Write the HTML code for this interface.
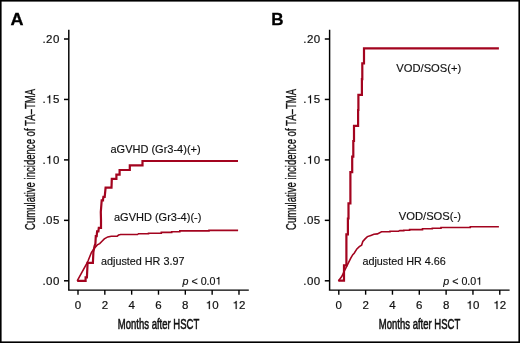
<!DOCTYPE html>
<html><head><meta charset="utf-8"><style>
html,body{margin:0;padding:0;background:#fff;width:520px;height:343px;overflow:hidden}
svg{display:block;will-change:transform}
.one{fill:none!important;stroke:none!important}
</style></head><body>
<svg width="520" height="343" viewBox="0 0 520 343">
<style>
.t{font-family:"Liberation Sans",sans-serif;font-size:11.5px;fill:#111;stroke:#111;stroke-width:0.2}
.ty{letter-spacing:0.5px}
.lab{font-family:"Liberation Sans",sans-serif;font-size:11px;fill:#111;stroke:#111;stroke-width:0.15}
.big{font-family:"Liberation Sans",sans-serif;font-size:17px;font-weight:bold;fill:#000;stroke:#000;stroke-width:0.3}
.ax{font-family:"Liberation Sans",sans-serif;font-size:13.8px;fill:#111;stroke:#111;stroke-width:0.55}
.one{fill:none!important;stroke:none!important}
</style>
<rect x="0" y="0" width="520" height="343" fill="#fff"/>
<rect x="0.8" y="0.8" width="518.4" height="341.4" fill="none" stroke="#000" stroke-width="1.6"/>
<text class="big" transform="translate(10.6 24.8) scale(1.06 1)">A</text>
<text class="big" transform="translate(271.3 24.7) scale(1.0 1)">B</text>
<path d="M68.80 29.7 V290.10 M68.05 290.10 H248.80" stroke="#000" stroke-width="1.45" fill="none"/>
<path d="M64.00 280.80 H68.80" stroke="#000" stroke-width="1.5"/>
<text x="59.90" y="284.70" text-anchor="end" class="t ty">.00</text>
<path d="M64.00 220.35 H68.80" stroke="#000" stroke-width="1.5"/>
<text x="59.90" y="224.25" text-anchor="end" class="t ty">.05</text>
<path d="M64.00 159.90 H68.80" stroke="#000" stroke-width="1.5"/>
<text x="59.90" y="163.80" text-anchor="end" class="t ty">.<tspan class="one">1</tspan>0</text>
<path d="M64.00 99.45 H68.80" stroke="#000" stroke-width="1.5"/>
<text x="59.90" y="103.35" text-anchor="end" class="t ty">.<tspan class="one">1</tspan>5</text>
<path d="M64.00 39.00 H68.80" stroke="#000" stroke-width="1.5"/>
<text x="59.90" y="42.90" text-anchor="end" class="t ty">.20</text>
<path d="M78.00 290.10 V294.7" stroke="#000" stroke-width="1.4"/>
<text x="78.00" y="309" text-anchor="middle" class="t">0</text>
<path d="M104.83 290.10 V294.7" stroke="#000" stroke-width="1.4"/>
<text x="104.83" y="309" text-anchor="middle" class="t">2</text>
<path d="M131.66 290.10 V294.7" stroke="#000" stroke-width="1.4"/>
<text x="131.66" y="309" text-anchor="middle" class="t">4</text>
<path d="M158.49 290.10 V294.7" stroke="#000" stroke-width="1.4"/>
<text x="158.49" y="309" text-anchor="middle" class="t">6</text>
<path d="M185.32 290.10 V294.7" stroke="#000" stroke-width="1.4"/>
<text x="185.32" y="309" text-anchor="middle" class="t">8</text>
<path d="M212.15 290.10 V294.7" stroke="#000" stroke-width="1.4"/>
<text x="212.15" y="309" text-anchor="middle" class="t"><tspan class="one">1</tspan>0</text>
<path d="M238.98 290.10 V294.7" stroke="#000" stroke-width="1.4"/>
<text x="238.98" y="309" text-anchor="middle" class="t"><tspan class="one">1</tspan>2</text>
<path d="M329.60 29.7 V290.10 M328.85 290.10 H509.60" stroke="#000" stroke-width="1.45" fill="none"/>
<path d="M324.80 280.80 H329.60" stroke="#000" stroke-width="1.5"/>
<text x="320.70" y="284.70" text-anchor="end" class="t ty">.00</text>
<path d="M324.80 220.35 H329.60" stroke="#000" stroke-width="1.5"/>
<text x="320.70" y="224.25" text-anchor="end" class="t ty">.05</text>
<path d="M324.80 159.90 H329.60" stroke="#000" stroke-width="1.5"/>
<text x="320.70" y="163.80" text-anchor="end" class="t ty">.<tspan class="one">1</tspan>0</text>
<path d="M324.80 99.45 H329.60" stroke="#000" stroke-width="1.5"/>
<text x="320.70" y="103.35" text-anchor="end" class="t ty">.<tspan class="one">1</tspan>5</text>
<path d="M324.80 39.00 H329.60" stroke="#000" stroke-width="1.5"/>
<text x="320.70" y="42.90" text-anchor="end" class="t ty">.20</text>
<path d="M338.80 290.10 V294.7" stroke="#000" stroke-width="1.4"/>
<text x="338.80" y="309" text-anchor="middle" class="t">0</text>
<path d="M365.63 290.10 V294.7" stroke="#000" stroke-width="1.4"/>
<text x="365.63" y="309" text-anchor="middle" class="t">2</text>
<path d="M392.46 290.10 V294.7" stroke="#000" stroke-width="1.4"/>
<text x="392.46" y="309" text-anchor="middle" class="t">4</text>
<path d="M419.29 290.10 V294.7" stroke="#000" stroke-width="1.4"/>
<text x="419.29" y="309" text-anchor="middle" class="t">6</text>
<path d="M446.12 290.10 V294.7" stroke="#000" stroke-width="1.4"/>
<text x="446.12" y="309" text-anchor="middle" class="t">8</text>
<path d="M472.95 290.10 V294.7" stroke="#000" stroke-width="1.4"/>
<text x="472.95" y="309" text-anchor="middle" class="t"><tspan class="one">1</tspan>0</text>
<path d="M499.78 290.10 V294.7" stroke="#000" stroke-width="1.4"/>
<text x="499.78" y="309" text-anchor="middle" class="t"><tspan class="one">1</tspan>2</text>
<g fill="none" stroke="#a3041f" stroke-linejoin="miter" stroke-linecap="butt">
<polyline points="77.2,280.8 85.6,280.8 85.6,277.3 86.9,277.3 87.6,262.8 92.9,262.8 93.4,252.0 94.5,246.2 95.4,243.6 95.8,236.2 96.7,236.2 97.1,231.4 98.4,231.4 98.8,227.9 101.0,227.9 101.0,220.0 100.8,212.0 101.7,200.4 103.0,200.4 103.0,199.9 103.4,196.9 104.7,196.9 105.6,187.6 111.5,187.6 111.8,178.9 116.4,178.9 116.4,174.7 119.6,174.7 119.6,170.0 129.8,170.0 129.8,165.3 142.5,165.3 142.5,161.0 238.0,161.0" stroke-width="2.2"/>
<polyline points="77.2,280.9 86.0,265.0 88.0,261.0 91.5,252.3 94.4,248.3 97.3,244.9 99.7,243.6 102.0,241.3 104.3,238.9 107.8,236.9 111.3,236.3 117.2,236.1 118.6,235.1 120.7,234.5 137.5,234.5 138.5,233.7 148.5,233.7 148.5,233.2 161.3,233.2 161.3,232.4 171.7,232.4 171.7,231.8 179.8,231.8 179.8,230.9 209.0,230.9 209.0,230.4 238.1,230.4" stroke-width="1.6"/>
<polyline points="338.4,280.7 344.0,280.7 344.0,265.4 346.4,265.4 346.4,234.3 347.9,234.3 347.9,218.5 348.5,218.5 348.5,203.4 350.4,203.4 350.4,172.1 352.2,172.1 352.2,156.7 353.3,156.7 353.3,141.0 354.0,141.0 354.0,125.8 358.1,125.8 358.1,110.0 358.4,110.0 358.4,94.9 361.9,94.9 361.9,79.1 362.3,79.1 362.3,63.4 364.0,63.4 364.0,48.4 498.9,48.4" stroke-width="2.2"/>
<polyline points="338.4,280.9 341.9,276.3 344.4,270.8 346.4,266.8 348.4,262.9 350.9,257.9 352.8,254.7 354.2,253.2 356.9,248.9 359.3,246.6 361.6,245.2 362.8,241.5 365.1,238.9 367.4,236.6 370.9,235.4 373.9,234.3 377.4,233.9 381.5,231.8 390.0,231.8 390.0,231.2 398.5,231.2 399.8,230.6 403.8,230.6 403.8,230.2 409.6,230.2 409.6,229.6 422.5,229.6 422.5,228.8 432.3,228.8 432.3,228.2 441.0,228.2 441.0,227.5 470.3,227.5 470.3,226.8 498.9,226.8" stroke-width="1.6"/>
</g>
<text x="110.5" y="153.2" class="lab">aGVHD (Gr3-4)(+)</text>
<text x="114.0" y="221.0" class="lab">aGVHD (Gr3-4)(-)</text>
<text x="101" y="264.7" class="lab" style="font-size:10.8px">adjusted HR 3.97</text>
<text x="182.5" y="284.5" class="lab" style="font-size:10.7px"><tspan font-style="italic">p</tspan> &lt; 0.0<tspan class="one">1</tspan></text>
<text x="396.3" y="71.9" class="lab" style="font-size:11.2px">VOD/SOS(+)</text>
<text x="398.8" y="220.1" class="lab" style="font-size:11.2px">VOD/SOS(-)</text>
<text x="362.4" y="264.5" class="lab" style="font-size:10.8px">adjusted HR 4.66</text>
<text x="443.3" y="284.7" class="lab" style="font-size:10.7px"><tspan font-style="italic">p</tspan> &lt; 0.0<tspan class="one">1</tspan></text>
<g fill="#111" stroke="#111"><path transform="translate(46.09 163.80) scale(0.01150)" d="M359 0H270V-505H101V-568C195-572 262-600 279-703H359Z" stroke-width="17.4"/><path transform="translate(46.09 103.35) scale(0.01150)" d="M359 0H270V-505H101V-568C195-572 262-600 279-703H359Z" stroke-width="17.4"/><path transform="translate(205.74 309.00) scale(0.01150)" d="M359 0H270V-505H101V-568C195-572 262-600 279-703H359Z" stroke-width="17.4"/><path transform="translate(232.57 309.00) scale(0.01150)" d="M359 0H270V-505H101V-568C195-572 262-600 279-703H359Z" stroke-width="17.4"/><path transform="translate(306.89 163.80) scale(0.01150)" d="M359 0H270V-505H101V-568C195-572 262-600 279-703H359Z" stroke-width="17.4"/><path transform="translate(306.89 103.35) scale(0.01150)" d="M359 0H270V-505H101V-568C195-572 262-600 279-703H359Z" stroke-width="17.4"/><path transform="translate(466.54 309.00) scale(0.01150)" d="M359 0H270V-505H101V-568C195-572 262-600 279-703H359Z" stroke-width="17.4"/><path transform="translate(493.37 309.00) scale(0.01150)" d="M359 0H270V-505H101V-568C195-572 262-600 279-703H359Z" stroke-width="17.4"/><path transform="translate(215.50 284.50) scale(0.01070)" d="M359 0H270V-505H101V-568C195-572 262-600 279-703H359Z" stroke-width="14.0"/><path transform="translate(476.30 284.70) scale(0.01070)" d="M359 0H270V-505H101V-568C195-572 262-600 279-703H359Z" stroke-width="14.0"/></g>
<text class="ax" transform="translate(117.8 328.5) scale(0.69 1)">Months after HSCT</text>
<text class="ax" transform="translate(378.8 328.5) scale(0.69 1)">Months after HSCT</text>
<text class="ax" style="font-size:14px;stroke-width:0.3" transform="translate(34.6 230) rotate(-90) scale(0.684 1)">Cumulative incidence of TA–TMA</text>
<text class="ax" style="font-size:14px;stroke-width:0.3" transform="translate(295.5 230) rotate(-90) scale(0.684 1)">Cumulative incidence of TA–TMA</text>
</svg>
</body></html>
